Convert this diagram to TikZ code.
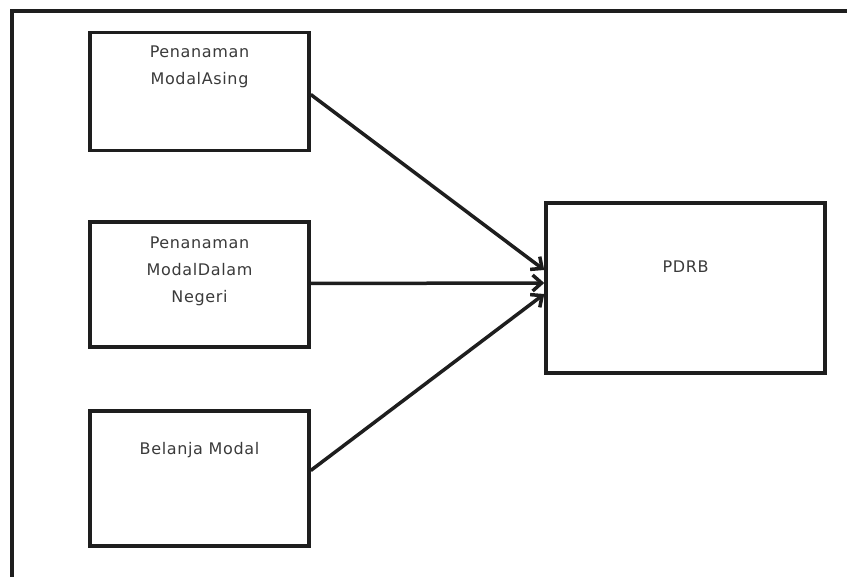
\documentclass[tikz,border=0pt]{standalone}
\usepackage{fontspec}
\setmainfont{DejaVu Sans}[LetterSpace=4]
\usetikzlibrary{arrows.meta}
\definecolor{txt}{HTML}{3A3A3A}
\definecolor{ln}{HTML}{1E1E1E}
\tikzset{
  box/.style={draw=ln, line width=3.5pt, rectangle, inner sep=0pt},
  lbl/.style={anchor=north, inner sep=0pt, align=center, text=txt,
              font=\fontsize{16}{27}\selectfont},
  link/.style={draw=ln, line width=3.5pt, -{Straight Barb[length=9pt,width=16pt,line width=3.5pt]}},
  frame/.style={draw=ln, line width=3.5pt}
}
\begin{document}
\begin{tikzpicture}[x=1pt,y=-1pt]
\useasboundingbox (0,0) rectangle (847,577);
% frame
\coordinate (fr) at (847,11);
\coordinate (fc) at (12,11);
\coordinate (fb) at (12,580);
\draw[frame] (fr) -- (fc) -- (fb);
% boxes
\node[box, minimum width=219pt, minimum height=118pt] (b1) at (199.5,91.5) {};
\node[box, minimum width=219pt, minimum height=125pt] (b2) at (199.5,284.5) {};
\node[box, minimum width=219pt, minimum height=135pt] (b3) at (199.5,478.5) {};
\node[box, minimum width=279pt, minimum height=170pt] (p) at (685.5,288) {};
% texts
\node[lbl] (t1) at (199.5,46) {Penanaman\\ModalAsing};
\node[lbl] (t2) at (199.5,237) {Penanaman\\ModalDalam\\Negeri};
\node[lbl] (t3) at (199.5,442.5) {Belanja Modal};
\node[lbl] (t4) at (685.5,260.5) {PDRB};
% connectors
\draw[link] ([yshift=-3pt]b1.east) -- ([yshift=18pt]p.west);
\draw[link] ([yshift=1pt]b2.east) -- ([yshift=5pt]p.west);
\draw[link] ([yshift=8pt]b3.east) -- ([yshift=-6pt]p.west);
\end{tikzpicture}
\end{document}
